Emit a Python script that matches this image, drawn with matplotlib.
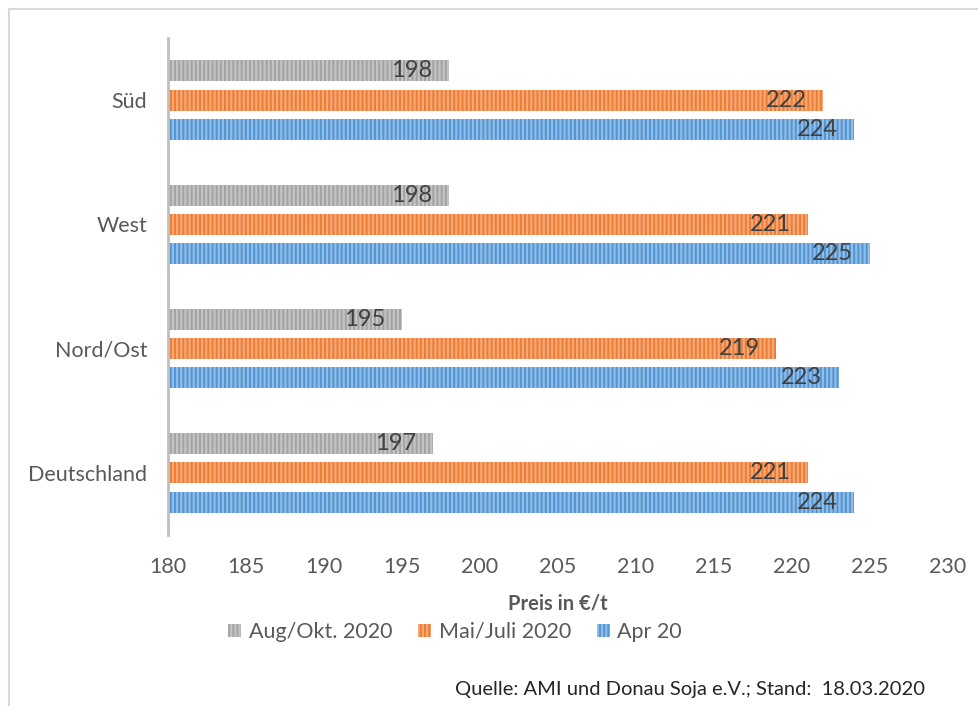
import matplotlib
matplotlib.use("Agg")
from matplotlib import pyplot as plt
from matplotlib.patches import Rectangle
import numpy as np

# values
regions = ["Deutschland", "Nord/Ost", "West", "Süd"]
aug_okt = [197, 195, 198, 198]
mai_juli = [221, 219, 221, 222]
apr = [224, 223, 225, 224]
series_names = ["Aug/Okt. 2020", "Mai/Juli 2020", "Apr 20"]

plt.rcParams['font.family'] = ['Lato', 'DejaVu Sans']
plt.rcParams['hatch.linewidth'] = 1.6

fig = plt.figure(figsize=(9.79, 7.06), dpi=100)
ax = fig.add_axes([168/979, 1 - 535/706, (948-168)/979, (535-38)/706])

# light frame around the whole chart (only left/top visible in the image)
fig.patches.append(Rectangle((9/979, -0.1), 1.2, 1 - 9/706 + 0.1, transform=fig.transFigure,
                             fill=False, edgecolor='#D9D9D9', lw=1.5))

y = np.arange(len(regions))
h = 0.17
off = 0.235
styles = [(aug_okt, off, '#A3A3A3', '#C4C4C4'),
          (mai_juli, 0, '#ED7D31', '#F4A87A'),
          (apr, -off, '#5096D4', '#93BDE6')]

for (vals, dy, fc, hc), name in zip(styles, series_names):
    bars = ax.barh(y + dy, vals, height=h, color=fc, edgecolor=hc, hatch='||||',
                   linewidth=0, label=name)
    for b, v in zip(bars, vals):
        ax.annotate(str(v), (v, b.get_y() + b.get_height()/2), xytext=(-12, 0),
                    textcoords='offset points', ha='right', va='center',
                    fontsize=17, color='#404040')

ax.set_xlim(180, 230)
ax.set_ylim(-0.5, 3.5)
ax.set_xticks(np.arange(180, 231, 5))
ax.set_yticks(y)
ax.set_yticklabels(regions)
ax.tick_params(axis='both', length=0, labelsize=15.5, labelcolor='#595959')
ax.tick_params(axis='y', pad=15)
ax.tick_params(axis='x', pad=16)
for s in ['top', 'right', 'bottom']:
    ax.spines[s].set_visible(False)
ax.spines['left'].set_color('#BFBFBF')
ax.spines['left'].set_linewidth(2)

ax.set_xlabel("Preis in €/t", fontsize=14.5, fontweight='bold', color='#595959', labelpad=12)

fig.legend(loc='center', bbox_to_anchor=(455/979, 1 - 632/706), ncol=3, frameon=False,
           fontsize=15.5, handlelength=0.6, handleheight=0.6, handletextpad=0.35,
           columnspacing=1.2, labelcolor='#595959')

fig.text(925/979, 1 - 690/706, "Quelle: AMI und Donau Soja e.V.; Stand:  18.03.2020",
         ha='right', va='center', fontsize=14.5, color='#262626')

fig.savefig("out.png", dpi=100)
